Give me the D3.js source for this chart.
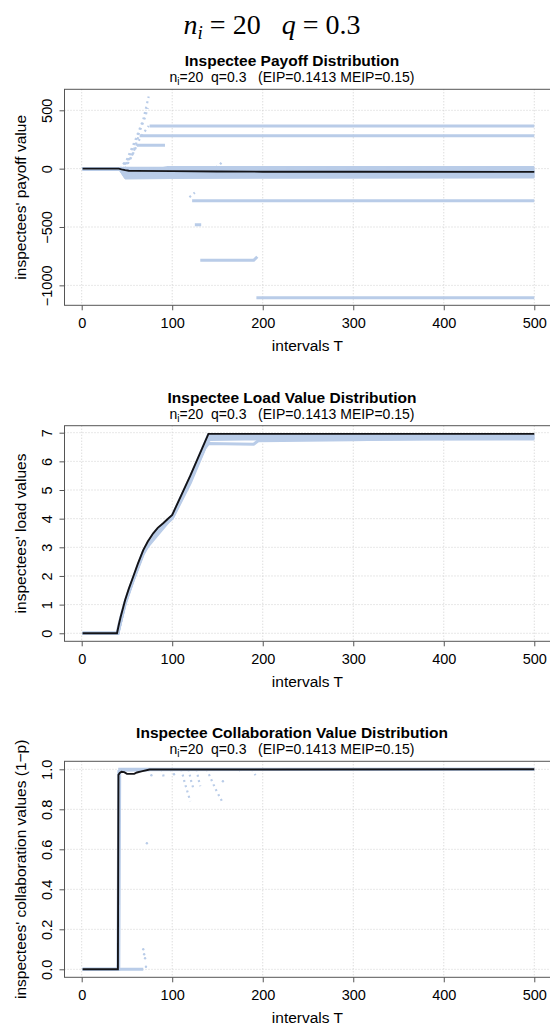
<!DOCTYPE html>
<html><head><meta charset="utf-8">
<script src="https://cdn.jsdelivr.net/npm/d3@7"></script>
<style>
body{margin:0;background:#fff}
text{font-family:"Liberation Sans",Arial,Helvetica,sans-serif;fill:#000}
</style>
</head><body>
<svg id="c" width="550" height="1030"></svg>
<script>
// ---------- data ----------
const xTicks = [0, 100, 200, 300, 400, 500];
const payoffYTicks = [-1000, -500, 0, 500];
const loadYTicks = [0, 1, 2, 3, 4, 5, 6, 7];
const collabYTicks = [0, 0.2, 0.4, 0.6, 0.8, 1.0];

const panelTitles = ["Inspectee Payoff Distribution", "Inspectee Load Value Distribution", "Inspectee Collaboration Value Distribution"];
const yLabels = ["inspectees' payoff value", "inspectees' load values", "inspectees' collaboration values (1\u2212p)"];
const subtitleRest = "=20  q=0.3   (EIP=0.1413 MEIP=0.15)";

// mean (black) lines: [T, value]
const payoffMean = [[1,0],[41,0],[44,-6],[48,-13],[52,-18],[60,-19],[100,-21],[150,-24],[200,-26],[300,-27],[500,-28]];
const loadMean = [[1,0],[39,0],[41,0.3],[43,0.57],[45,0.8],[48,1.16],[52,1.55],[57,1.98],[62,2.42],[68,2.9],[73,3.2],[79,3.49],[84,3.68],[90,3.84],[95,3.99],[100,4.13],[120,5.5],[140,6.96],[500,6.96]];
const collabMean = [[1,0],[40,0],[40.6,0.972],[42,0.982],[44,0.988],[47,0.986],[50,0.978],[58,0.977],[61,0.984],[66,0.99],[75,0.999],[500,1.0]];

// individual inspectees (light blue), keypoints [T, value]
const payoffSeries = [
  [[1,0],[42,0],[48,3],[90,3],[95,9],[500,9]],
  [[1,0],[42,0],[48,-5],[100,-3],[500,0]],
  [[1,0],[42,0],[48,-12],[100,-10],[500,-8]],
  [[1,0],[42,0],[48,-20],[100,-18],[500,-15]],
  [[1,0],[42,0],[48,-28],[100,-25],[500,-22]],
  [[1,0],[42,0],[48,-35],[100,-32],[500,-30]],
  [[1,0],[42,0],[48,-42],[100,-40],[500,-38]],
  [[1,0],[42,0],[48,-50],[100,-47],[500,-45]],
  [[1,0],[42,0],[48,-58],[100,-55],[500,-52]],
  [[1,0],[42,0],[48,-66],[100,-62],[500,-60]],
  [[1,0],[42,0],[48,-74],[100,-70],[500,-67]],
  [[1,0],[42,0],[49,-80],[100,-75],[500,-72]],
  [[75,366],[500,366]],
  [[64,283],[500,283]],
  [[61,200],[92,200]],
  [[122,-275],[500,-275]],
  [[125,-480],[132,-480]],
  [[131,-786],[190,-786],[194,-755]],
  [[193,-1107],[500,-1107]]
];
const payoffTrails = [
  [[42,0],[50,80],[60,260],[68,420],[74,618]],
  [[43,0],[52,90],[62,280],[70,440],[73,520]],
  [[44,0],[55,110],[65,270],[74,366]],
  [[46,0],[56,120],[63,283]],
  [[48,0],[55,100],[61,200]],
  [[119,-245],[125,-205]],
  [[148,10],[152,30],[156,65]]
];
const payoffDots = [];

const loadSeries = [
  [[1,0],[39,0],[42,0.42],[48,1.12],[57,1.94],[68,2.86],[79,3.45],[90,3.8],[100,4.1],[120,5.45],[140,6.93],[500,6.93]],
  [[1,0],[40,0],[43,0.4],[48,1.08],[57,1.9],[68,2.82],[79,3.42],[90,3.78],[100,4.05],[120,5.35],[138,6.6],[142,6.9],[500,6.9]],
  [[1,0],[40,0],[48,1.05],[57,1.88],[68,2.8],[79,3.4],[90,3.76],[100,4.02],[120,5.3],[138,6.7],[142,6.85],[200,6.85],[260,6.88],[500,6.85]],
  [[1,0],[40,0],[48,1.02],[57,1.85],[68,2.76],[79,3.38],[90,3.74],[100,4.0],[120,5.25],[136,6.45],[140,6.62],[190,6.6],[195,6.72],[300,6.75],[380,6.8],[500,6.8]],
  [[1,0],[40,0],[48,1.08],[68,2.84],[100,4.05],[138,6.68],[142,6.76],[180,6.78],[250,6.8],[330,6.77],[500,6.78]],
  [[140,6.9],[160,6.82],[175,6.8],[230,6.86],[300,6.84],[400,6.88],[500,6.86]]
];
const loadTrails = [];
const loadDots = [];

const collabSeries = [
  [[1,0],[40,0],[41,0.99],[48,0.998],[500,1]],
  [[1,0],[41,0],[42,1],[500,1]],
  [[1,0],[68,0]],
  [[42,0.996],[75,0.998]]
];
const collabTrails = [
  [[88,1],[90,0.975],[91,0.95]],
  [[98,1],[100,0.985]],
  [[110,1],[114,0.93],[120,0.84]],
  [[118,1],[121,0.94],[124,0.895]],
  [[127,1],[129,0.95],[131,0.915]],
  [[138,1],[143,0.95],[148,0.9],[155,0.84]],
  [[174,1],[176,0.985]],
  [[188,1],[190,0.985],[192,0.97]]
];
const collabDots = [[77,0.97],[156,0.94],[72,0.63],[68,0.1],[69,0.075],[70,0.055],[71,0.013],[102,0.975]];

// ---------- drawing ----------
const svg = d3.select("#c");
const BLUE = "#b9cce8";
const X0 = 64.5, X1 = 552.4;
const x = d3.scaleLinear().domain([-19, 520]).range([X0, X1]);

// top math title
const tt = svg.append("text").attr("x", 272).attr("y", 34).attr("text-anchor", "middle")
  .style("font-family", "'Liberation Serif','DejaVu Serif',serif").style("font-size", "28px").style("white-space", "pre");
tt.append("tspan").style("font-style", "italic").text("n");
tt.append("tspan").style("font-style", "italic").style("font-size", "19px").attr("dy", 5).text("i");
tt.append("tspan").attr("dy", -5).text(" = 20   ");
tt.append("tspan").style("font-style", "italic").text("q");
tt.append("tspan").text(" = 0.3");

const panels = [
  {top: 89.3, bottom: 305.3, dom: [-1171, 680], ticks: payoffYTicks, fmt: d => d < 0 ? "\u2212" + Math.abs(d) : String(d),
   mean: payoffMean, series: payoffSeries, trails: payoffTrails, dots: payoffDots},
  {top: 425.7, bottom: 641.3, dom: [-0.28, 7.244], ticks: loadYTicks, fmt: d => String(d),
   mean: loadMean, series: loadSeries, trails: loadTrails, dots: loadDots},
  {top: 761.3, bottom: 977.3, dom: [-0.04, 1.04], ticks: collabYTicks, fmt: d3.format(".1f"),
   mean: collabMean, series: collabSeries, trails: collabTrails, dots: collabDots}
];

panels.forEach((p, i) => {
  const y = d3.scaleLinear().domain(p.dom).range([p.bottom, p.top]);
  const g = svg.append("g");
  const cid = "clip" + i;
  svg.append("clipPath").attr("id", cid).append("rect")
    .attr("x", X0).attr("y", p.top).attr("width", X1 - X0).attr("height", p.bottom - p.top);

  // grid
  const grid = g.append("g").attr("stroke", "#cfcfcf").attr("stroke-width", 1).attr("stroke-dasharray", "1,2");
  grid.selectAll(".gx").data(xTicks).enter().append("line")
    .attr("x1", d => x(d)).attr("x2", d => x(d)).attr("y1", p.top).attr("y2", p.bottom);
  grid.selectAll(".gy").data(p.ticks).enter().append("line")
    .attr("x1", X0).attr("x2", X1).attr("y1", d => y(d)).attr("y2", d => y(d));

  const line = d3.line().x(d => x(d[0])).y(d => y(d[1]));
  const plot = g.append("g").attr("clip-path", `url(#${cid})`);
  plot.selectAll(".s").data(p.series).enter().append("path")
    .attr("d", line).attr("fill", "none").attr("stroke", BLUE).attr("stroke-width", 3);
  plot.selectAll(".t").data(p.trails).enter().append("path")
    .attr("d", line).attr("fill", "none").attr("stroke", BLUE).attr("stroke-width", 2.2).attr("stroke-dasharray", "2,3.5");
  plot.selectAll(".d").data(p.dots).enter().append("circle")
    .attr("cx", d => x(d[0])).attr("cy", d => y(d[1])).attr("r", 1.2).attr("fill", BLUE);
  plot.append("path").attr("d", line(p.mean)).attr("fill", "none").attr("stroke", "#141418").attr("stroke-width", 1.9);

  // box
  g.append("rect").attr("x", X0).attr("y", p.top).attr("width", X1 - X0).attr("height", p.bottom - p.top)
    .attr("fill", "none").attr("stroke", "#555").attr("stroke-width", 1);

  // x axis
  const xa = g.append("g").attr("transform", `translate(0,${p.bottom})`)
    .call(d3.axisBottom(x).tickValues(xTicks).tickSize(5).tickPadding(7));
  xa.select(".domain").remove();
  xa.selectAll("line").attr("stroke", "#555");
  xa.selectAll("text").style("font-size", "14.5px").attr("dy", null).attr("y", 22.4);
  g.append("text").attr("x", (X0 + X1) / 2 - 1).attr("y", p.bottom + 45.4).attr("text-anchor", "middle")
    .style("font-size", "15.5px").text("intervals T");

  // y axis
  const ya = g.append("g").attr("transform", `translate(${X0},0)`)
    .call(d3.axisLeft(y).tickValues(p.ticks).tickFormat(p.fmt).tickSize(5));
  ya.select(".domain").remove();
  ya.selectAll("line").attr("stroke", "#555");
  ya.selectAll("text").style("font-size", "14.5px").attr("x", null).attr("dy", null)
    .attr("text-anchor", "middle").attr("transform", "translate(-13,0) rotate(-90)");
  g.append("text").attr("transform", `translate(25.5,${(p.top + p.bottom) / 2}) rotate(-90)`)
    .attr("text-anchor", "middle").style("font-size", "15.5px").text(yLabels[i]);

  // titles
  g.append("text").attr("x", 292).attr("y", p.top - 23).attr("text-anchor", "middle")
    .style("font-size", "15.5px").style("font-weight", "bold").text(panelTitles[i]);
  const st = g.append("text").attr("x", 292).attr("y", p.top - 7).attr("text-anchor", "middle")
    .style("font-size", "14px").style("white-space", "pre");
  st.append("tspan").text("n");
  st.append("tspan").attr("dy", 3).style("font-size", "10px").text("i");
  st.append("tspan").attr("dy", -3).text(subtitleRest);
});
</script>
</body></html>
